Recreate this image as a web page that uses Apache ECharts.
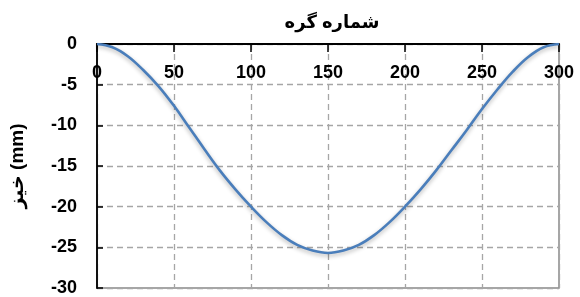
<!DOCTYPE html>
<html>
<head>
<meta charset="utf-8">
<script src="https://cdn.jsdelivr.net/npm/echarts@6/dist/echarts.min.js"></script>
<style>
  html, body { margin: 0; padding: 0; background: #fff; }
  #chart { width: 580px; height: 297px; }
</style>
</head>
<body>
<div id="chart"></div>
<script>
// ====== 数据 ======
const nodes = [0, 10, 20, 30, 40, 50, 60, 70, 80, 90, 100, 110, 120, 130, 140, 150,
  160, 170, 180, 190, 200, 210, 220, 230, 240, 250, 260, 270, 280, 290, 300];
const deflection = [0, -0.4, -1.5, -3.2, -5.2, -7.6, -10.3, -13.0, -15.6, -17.9, -20.0,
  -21.9, -23.5, -24.7, -25.4, -25.7, -25.4, -24.7, -23.5, -21.9, -20.0,
  -17.9, -15.6, -13.1, -10.6, -8.0, -5.6, -3.4, -1.6, -0.4, 0];
const xTitle = "شماره گره";
const yTitle = "خیز (mm)";

const font = "'Liberation Sans', 'DejaVu Sans', sans-serif";
const gridLine = { show: true, lineStyle: { color: "#a6a6a6", width: 1.3, type: [6, 4] } };

const chart = echarts.init(document.getElementById("chart"));

chart.setOption({
  animation: false,
  backgroundColor: "#fff",
  title: {
    text: xTitle,
    left: 327,
    textAlign: "center",
    top: 9,
    textStyle: { fontFamily: font, fontSize: 18, fontWeight: "bold", color: "#000" }
  },
  grid: {
    left: 94, right: 21, top: 44, bottom: 4,
    show: true, borderColor: "#898989", borderWidth: 1.5, backgroundColor: "transparent"
  },
  xAxis: {
    type: "value",
    position: "top",
    min: 0, max: 300, interval: 50,
    axisLine: { show: true, onZero: false, lineStyle: { color: "#000", width: 1.8 } },
    axisTick: { show: true, inside: true, length: 8, lineStyle: { color: "#000", width: 1.5 } },
    axisLabel: { inside: true, margin: 20, fontFamily: font, fontSize: 18, fontWeight: "bold", color: "#000" },
    splitLine: gridLine
  },
  yAxis: {
    type: "value",
    min: -30, max: 0, interval: 5,
    name: yTitle,
    nameLocation: "middle",
    nameRotate: 90,
    nameGap: 70,
    nameTextStyle: { fontFamily: font, fontSize: 19, fontWeight: "bold", color: "#000", padding: [0, 0, 0, 0] },
    axisLine: { show: true, onZero: false, lineStyle: { color: "#000", width: 1.8 } },
    axisTick: { show: true, inside: true, length: 6, lineStyle: { color: "#000", width: 1.5 } },
    axisLabel: { margin: 20, fontFamily: font, fontSize: 18, fontWeight: "bold", color: "#000" },
    splitLine: gridLine
  },
  series: [{
    type: "line",
    data: nodes.map((n, i) => [n, deflection[i]]),
    smooth: 0.4,
    showSymbol: false,
    lineStyle: {
      color: "#4a7ebb", width: 2.6,
      shadowColor: "rgba(0,0,0,0.3)", shadowBlur: 4, shadowOffsetY: 2
    }
  }]
});

window.addEventListener("resize", () => chart.resize());
</script>
</body>
</html>
